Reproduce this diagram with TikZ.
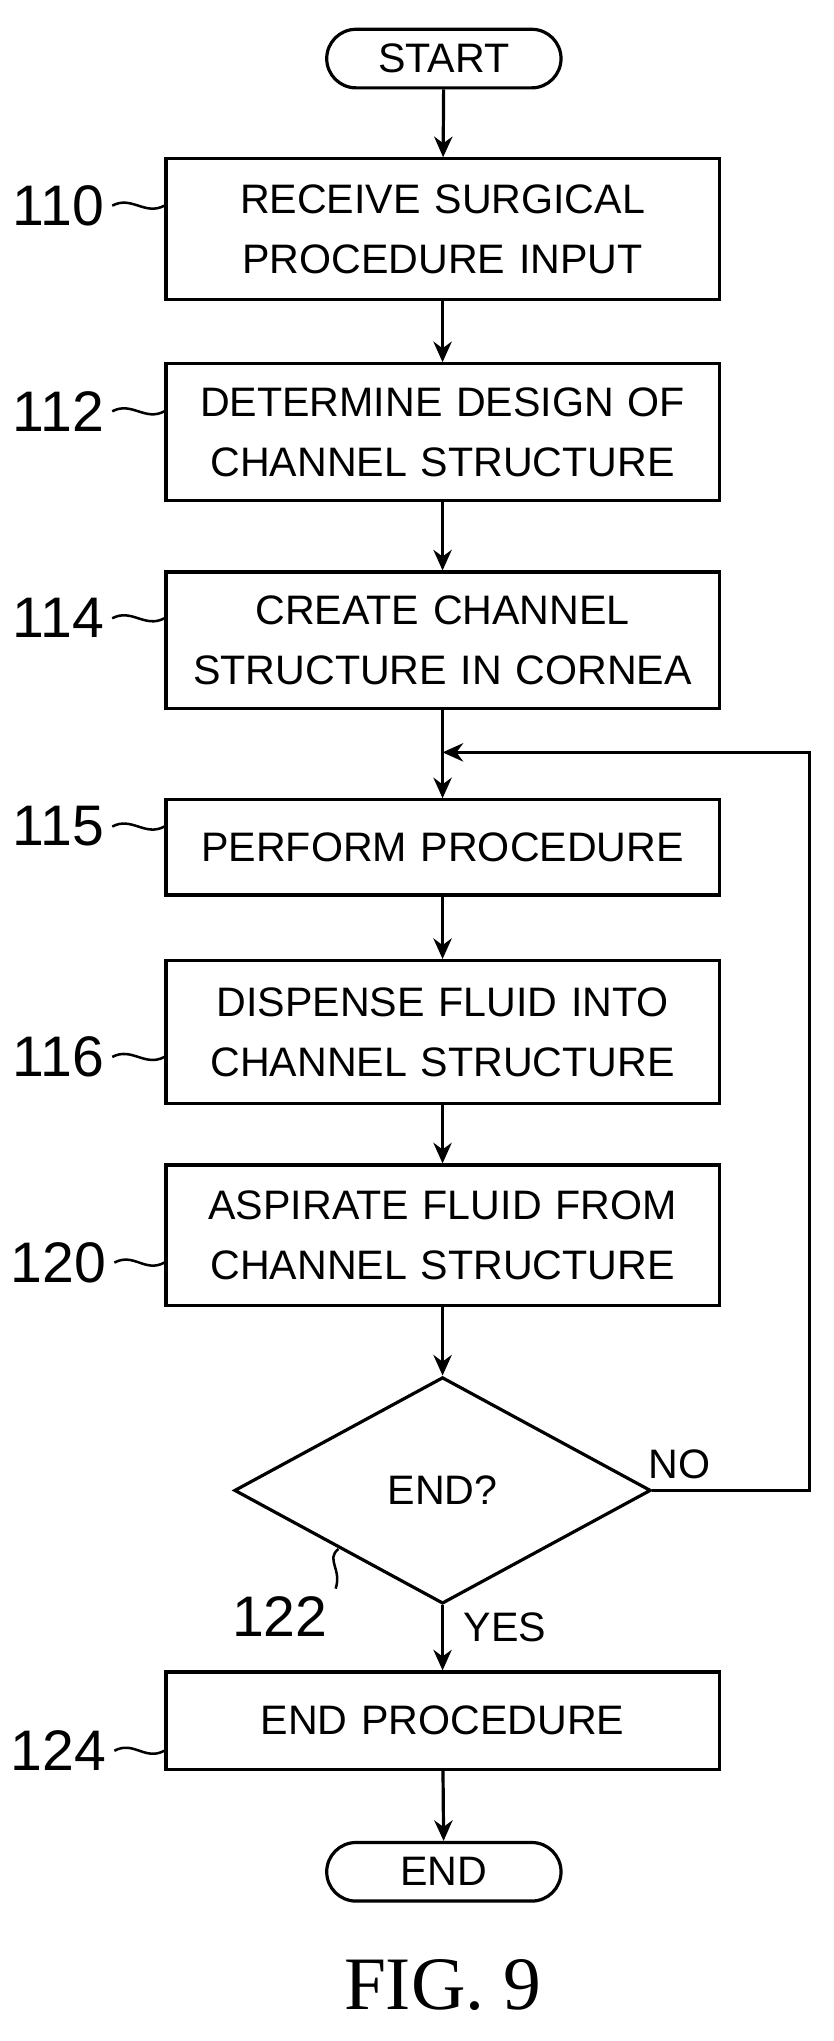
\documentclass[tikz,border=0pt]{standalone}
\usepackage{fontspec}
\setmainfont{Liberation Sans}
\newfontfamily\figfont{Liberation Serif}
\usetikzlibrary{shapes.geometric,arrows.meta}
\begin{document}
\begin{tikzpicture}[x=0.2mm,y=-0.2mm,
  box/.style={draw,line width=1.4pt,minimum width=85mm,text width=80mm,align=center,inner xsep=0pt,font=\fontsize{18}{26}\selectfont},
  term/.style={draw,line width=1.4pt,rounded corners=4.5mm,minimum width=36mm,minimum height=9mm,font=\fontsize{18}{24}\selectfont},
  flow/.style={line width=1.4pt,-{Stealth[length=9pt,width=8pt]}},
  ref/.style={font=\fontsize{25}{28}\selectfont},
  lead/.style={line width=1.1pt}]
\useasboundingbox (0,0) rectangle (640,1568);
% terminals and steps
\node[term] (start) at (341,45) {START};
\node[box,minimum height=21.6mm] (s110) at (340,176) {RECEIVE SURGICAL\\PROCEDURE INPUT};
\node[box,minimum height=21mm] (s112) at (340,332) {DETERMINE DESIGN OF\\CHANNEL STRUCTURE};
\node[box,minimum height=21mm] (s114) at (340,492) {CREATE CHANNEL\\STRUCTURE IN CORNEA};
\coordinate (join) at (340,578);
\node[box,minimum height=14.6mm] (s115) at (340,651) {PERFORM PROCEDURE};
\node[box,minimum height=22mm] (s116) at (340,793) {DISPENSE FLUID INTO\\CHANNEL STRUCTURE};
\node[box,minimum height=21.6mm] (s120) at (340,949) {ASPIRATE FLUID FROM\\CHANNEL STRUCTURE};
\node[diamond,draw,line width=1.4pt,aspect=1.84,minimum width=64mm,minimum height=34.8mm,inner sep=0pt,font=\fontsize{18}{24}\selectfont] (s122) at (340,1145) {END?};
\node[box,minimum height=15mm] (s124) at (340,1322) {END PROCEDURE};
\node[term] (end) at (341,1438) {END};
\coordinate (corner1) at (622,1145);
\coordinate (corner2) at (622,578);
% connectors
\draw[flow] (start) -- (s110);
\draw[flow] (s110) -- (s112);
\draw[flow] (s112) -- (s114);
\draw[line width=1.4pt] (s114) -- (join);
\draw[flow] (join) -- (s115);
\draw[flow] (s115) -- (s116);
\draw[flow] (s116) -- (s120);
\draw[flow] (s120) -- (s122);
\draw[flow] (s122) -- (s124);
\draw[flow] (s124) -- (end);
\draw[flow] (s122.east) -- (corner1) -- (corner2) -- (join);
\node[font=\fontsize{18}{24}\selectfont] (no) at (522,1125) {NO};
\node[font=\fontsize{18}{24}\selectfont] (yes) at (388,1250) {YES};
% reference numerals
\node[ref] (r110) at (45,158) {110};
\node[ref] (r112) at (45,316) {112};
\node[ref] (r114) at (45,475) {114};
\node[ref] (r115) at (45,635) {115};
\node[ref] (r116) at (45,812) {116};
\node[ref] (r120) at (45,970) {120};
\node[ref] (r122) at (215,1242) {122};
\node[ref] (r124) at (45,1345) {124};
\foreach \r/\s in {r110/s110,r112/s112,r114/s114,r115/s115,r116/s116,r120/s120,r124/s124}
  \draw[lead] (\r.east) .. controls +(15,-8) and +(-15,8) .. (\s.west |- \r.east);
\draw[lead] (r122.north east) .. controls +(5,-15) and +(-10,8) .. (260,1190);
\node[font=\figfont\fontsize{33}{36}\selectfont] (fig) at (340,1525) {FIG. 9};
\end{tikzpicture}
\end{document}
